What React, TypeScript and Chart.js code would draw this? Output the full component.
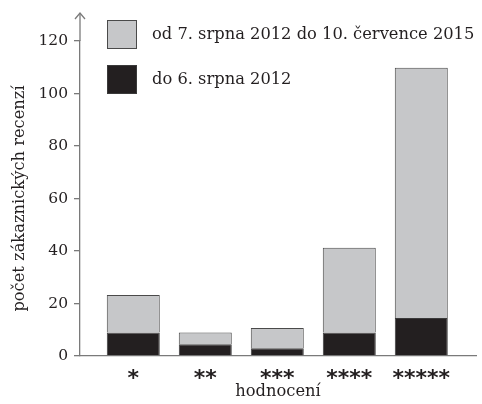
import React, { useEffect, useRef } from "react";
import { Chart, registerables } from "chart.js";

Chart.register(...registerables);

const categories = ["*", "**", "***", "****", "*****"];
const oldReviews = [9, 4.5, 3, 9, 14.5];
const newReviews = [14.2, 4.5, 7.7, 32.2, 95.3];
const seriesLabels = ["do 6. srpna 2012", "od 7. srpna 2012 do 10. července 2015"];
const yTicks = [0, 20, 40, 60, 80, 100, 120];
const yTitle = "počet zákaznických recenzí";
const xTitle = "hodnocení";

const SERIF = "'DejaVu Serif', serif";
const AXIS = "#7a7a7a";

const decorPlugin = {
  id: "decor",
  afterDraw(chart: any) {
    const ctx = chart.ctx;
    const { left, top } = chart.chartArea;
    ctx.save();
    ctx.strokeStyle = AXIS;
    ctx.lineWidth = 1.3;
    ctx.beginPath();
    ctx.moveTo(left, top);
    ctx.lineTo(left, top - 28);
    ctx.stroke();
    ctx.beginPath();
    ctx.moveTo(left - 5, top - 22);
    ctx.lineTo(left, top - 28);
    ctx.lineTo(left + 5, top - 22);
    ctx.stroke();
    const ds = chart.data.datasets.slice().reverse();
    ds.forEach((d: any, i: number) => {
      const bx = left + 27;
      const by = top - 21 + i * 45;
      ctx.fillStyle = d.backgroundColor;
      ctx.fillRect(bx, by, 30, 29);
      ctx.strokeStyle = d.borderColor;
      ctx.lineWidth = 1;
      ctx.strokeRect(bx + 0.5, by + 0.5, 29, 28);
      ctx.fillStyle = "#231f20";
      ctx.font = "16.3px " + SERIF;
      ctx.textBaseline = "middle";
      ctx.textAlign = "left";
      ctx.fillText(d.label, bx + 45, by + 14.5);
    });
    ctx.restore();
  },
};

export default function App() {
  const ref = useRef<HTMLCanvasElement>(null);
  useEffect(() => {
    document.body.style.margin = "0";
    const chart = new Chart(ref.current!, {
      type: "bar",
      data: {
        datasets: [
          {
            label: seriesLabels[0],
            data: oldReviews.map((v, i) => ({ x: i, y: v })),
            backgroundColor: "#231f20",
            borderColor: "#3a3a3a",
            borderWidth: 1,
            categoryPercentage: 1,
            barPercentage: 0.736,
          },
          {
            label: seriesLabels[1],
            data: newReviews.map((v, i) => ({ x: i, y: v })),
            backgroundColor: "#c6c7c9",
            borderColor: "#4a4a4a",
            borderWidth: 1,
            categoryPercentage: 1,
            barPercentage: 0.736,
          },
        ],
      },
      options: {
        animation: false,
        responsive: false,
        maintainAspectRatio: false,
        layout: { padding: { top: 41, right: 6, left: 0, bottom: 0 } },
        plugins: { legend: { display: false }, tooltip: { enabled: false } },
        scales: {
          x: {
            type: "linear",
            offset: false,
            stacked: true,
            min: -0.74,
            max: 4.76,
            afterBuildTicks: (s: any) => {
              s.ticks = categories.map((_, i) => ({ value: i }));
            },
            afterFit: (s: any) => {
              s.height = 48;
            },
            grid: { display: false, offset: false },
            border: { display: true, color: AXIS, width: 1.3 },
            ticks: {
              callback: (v: any) => categories[v] ?? "",
              font: { family: "'DejaVu Sans', sans-serif", size: 22, weight: "bold" },
              color: "#231f20",
              padding: 2,
              maxRotation: 0,
              autoSkip: false,
            },
            title: {
              display: true,
              text: xTitle,
              font: { family: SERIF, size: 16.3 },
              color: "#231f20",
              padding: { top: 0, bottom: 2 },
            },
          },
          y: {
            stacked: true,
            min: 0,
            max: 120,
            afterBuildTicks: (s: any) => {
              s.ticks = yTicks.map((v) => ({ value: v }));
            },
            afterFit: (s: any) => {
              s.width = 80;
            },
            grid: { drawOnChartArea: false, drawTicks: true, tickLength: 6, color: AXIS, lineWidth: 1.3 },
            border: { display: true, color: AXIS, width: 1.3 },
            ticks: {
              font: { family: SERIF, size: 15.5 },
              color: "#231f20",
              padding: 6,
            },
            title: {
              display: true,
              text: yTitle,
              font: { family: SERIF, size: 16.3 },
              color: "#231f20",
              padding: { top: 10, bottom: 0 },
            },
          },
        },
      },
      plugins: [decorPlugin],
    } as any);
    return () => chart.destroy();
  }, []);
  return (
    <div style={{ position: "fixed", left: 0, top: 0, width: 482, height: 404, background: "#fff" }}>
      <canvas ref={ref} width={482} height={404} style={{ width: 482, height: 404 }} />
    </div>
  );
}
